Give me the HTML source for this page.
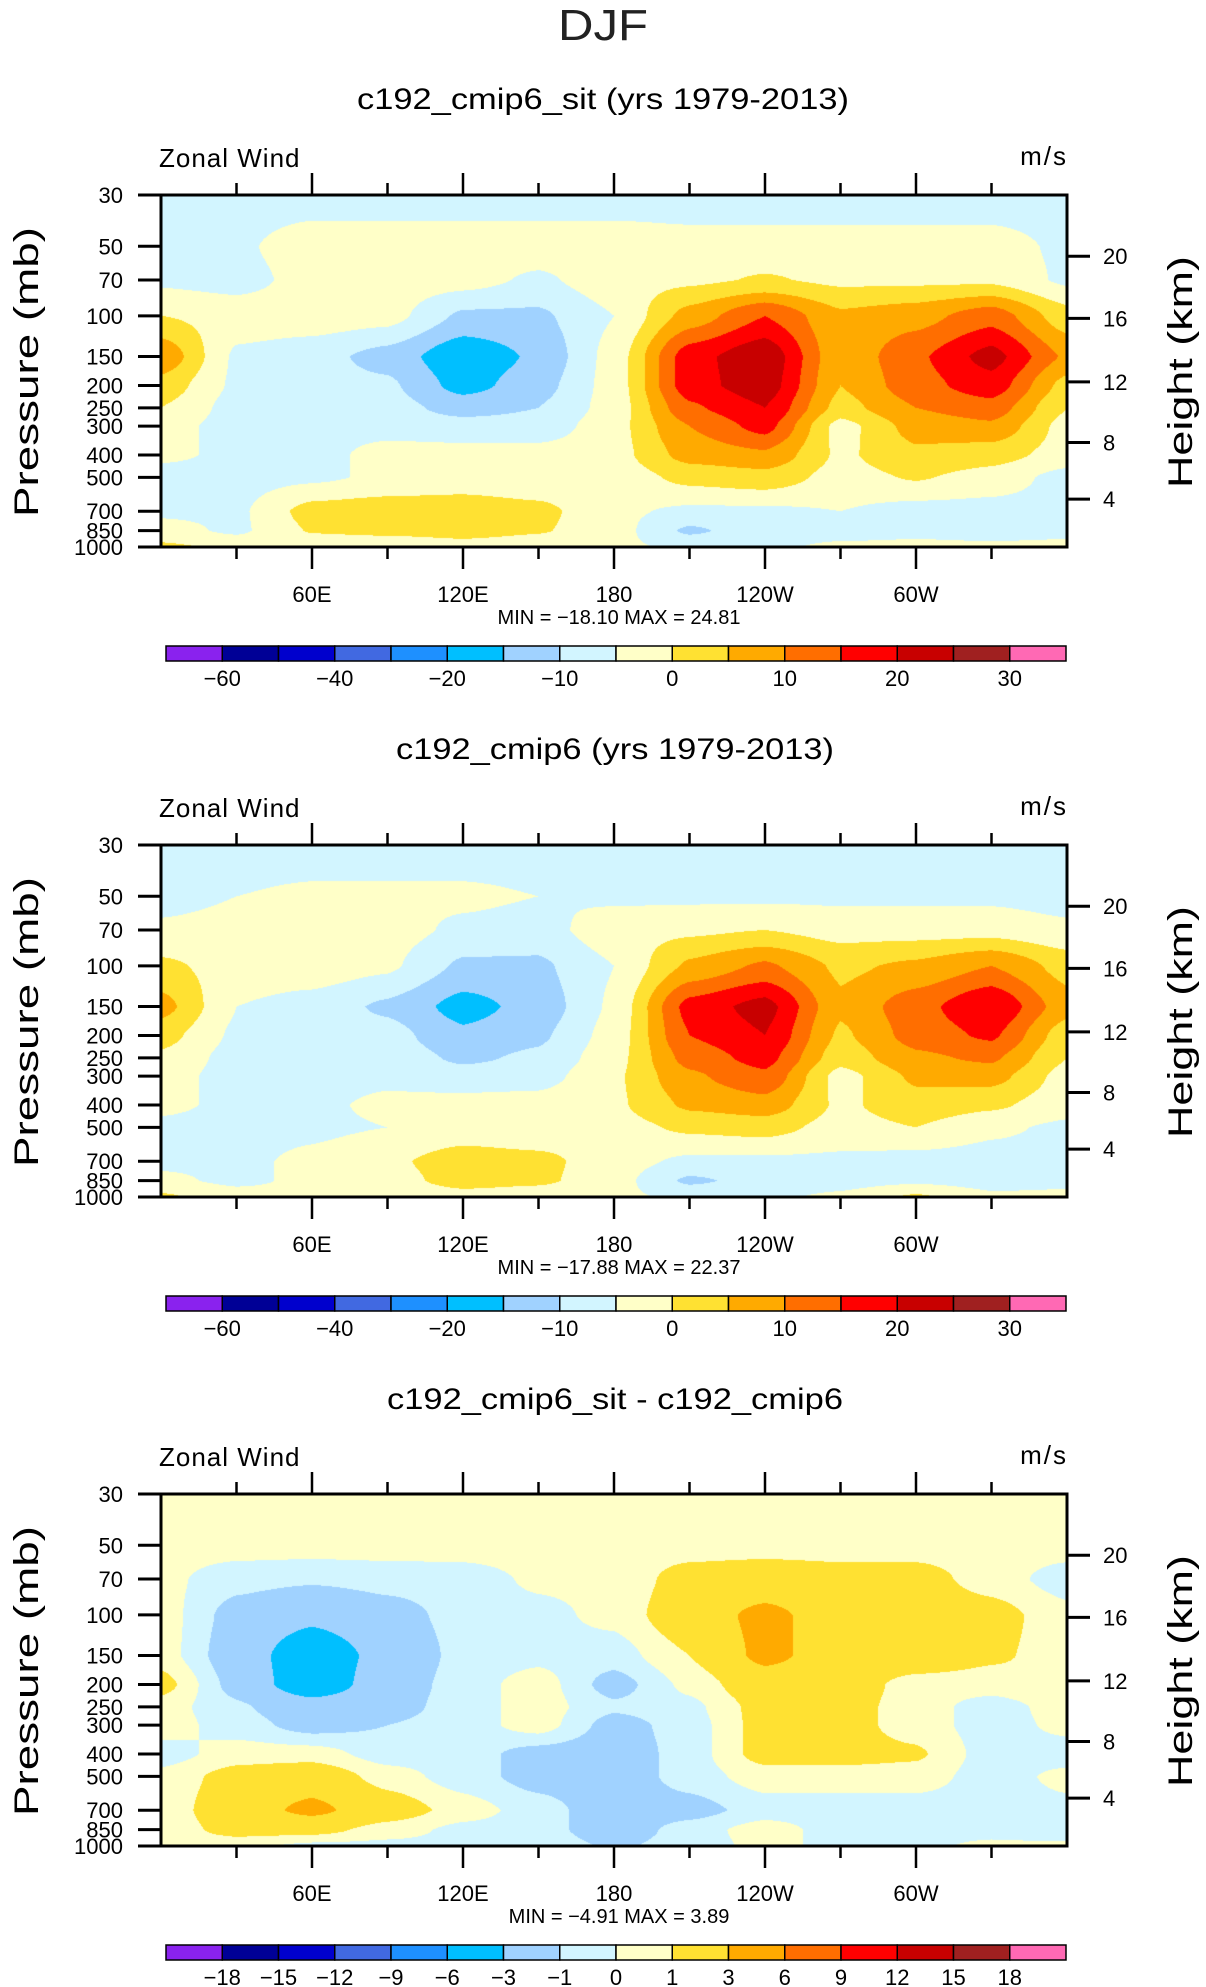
<!DOCTYPE html>
<html><head><meta charset="utf-8">
<style>
html,body{margin:0;padding:0;background:#fff;}
#root{position:relative;width:1206px;height:1987px;overflow:hidden;font-family:"Liberation Sans",sans-serif;}
canvas{position:absolute;}
svg{position:absolute;left:0;top:0;}
</style></head>
<body>
<div id="root">
<canvas id="c1"></canvas>
<canvas id="c2"></canvas>
<canvas id="c3"></canvas>
<svg id="ov" width="1206" height="1987"></svg>
</div>
<script>
// ---- data ----
const lons = [0,30,60,90,120,150,180,210,240,270,300,330,360];
const pLevels = [30,50,70,100,150,200,250,300,400,500,700,850,1000];
const pTickLabels = [30,50,70,100,150,200,250,300,400,500,700,850,1000];
const heightTickLabels = [20,16,12,8,4];
const heightTickPressures = [55.2,102.6,193,353,621];
const lonTickLabels = ["60E","120E","180","120W","60W"];
const lonTickValues = [60,120,180,240,300];
const levelsAbs = [-60,-50,-40,-30,-20,-15,-10,-5,0,5,10,15,20,25,30];
const levelsDiff = [-18,-15,-12,-9,-6,-3,-1,0,1,3,6,9,12,15,18];
const cbarLabelsAbs = ["-60","","-40","","-20","","-10","","0","","10","","20","","30"];
const cbarLabelsDiff = ["-18","-15","-12","-9","-6","-3","-1","0","1","3","6","9","12","15","18"];
const colors = ["#8a22ee","#000096","#0000cd","#4169e1","#1e90ff","#00bfff","#a0d2ff","#d2f5ff","#ffffc8","#ffe132","#ffaa00","#ff6e00","#ff0000","#c80000","#a02020","#ff69b4"];

const panel1Values = [
 [-8,-8,-8,-8,-8,-8,-8,-8,-8,-8,-8,-8,-8],
 [-7,-6,-2,-2,-2,-2,-2,-3,-3,-3,-3,-3,-6],
 [-6,-7,-3,-2,-3,-6,-2,-1,0.5,-1,-1,-1,-6],
 [0,-2,-2,-3,-11,-11,-5,7,15,6,8,13,2],
 [9,-6,-8,-12,-19,-14,-3,18,24,6,14,22,9],
 [3,-6,-8,-9,-17,-12,-3,18,23,5,13,18,3],
 [0,-7,-7,-8,-12,-10,-3,14,20,3,10,13,0],
 [-3,-7,-7,-7,-8,-8,-2,10,17,-2,7,9,-2],
 [-4,-6,-7,-3,-3,-3,-2,7,9,-1,4,2,-2],
 [-7,-7,-6,-4,-3,-4,-3,1.5,3,-2,0.5,-2,-7],
 [-6,-6,2,3,3,1.5,-4,-6,-6,-5,-7,-7,-7],
 [-3,-6,0.5,1.5,2,0.5,-3,-11,-7,-7,-6,-7,-6],
 [1,-1,-4,-4,-2,-3,-4,-6,-6,-4,-4,-4,-4]
];
const panel2Values = [
 [-8,-8,-8,-8,-8,-8,-8,-8,-8,-8,-8,-8,-8],
 [-7,-5,-4,-4,-4,-5,-6,-6,-6,-6,-6,-6,-7],
 [-4,-3,-2,-3,-6,-7,-2,-1,0,-2,-2,-2,-4],
 [1,-2,-2,-4,-11,-11,-5,6,11,4,6,10,3],
 [7,-5,-7,-11,-17,-13,-4,17,22,6,13,20,7],
 [2,-6,-8,-8,-14,-11,-3,15,20,4,12,16,2],
 [-1,-7,-7,-7,-11,-9,-2,12,17,2,9,11,0],
 [-3,-7,-7,-6,-8,-7,-1,9,14,-2,6,7,-2],
 [-4,-6,-6,-4,-3,-3,-1,6,8,-1,3,1,-3],
 [-6,-7,-6,-5,-3,-4,-2,1,2,-2,0,-4,-6],
 [-6,-6,-4,-1,2.5,1.5,-3,-6,-6,-6,-7,-7,-7],
 [-4,-6,-4,-2,2,1,-3,-11,-8,-7,-6,-7,-6],
 [1,-3,-4,-4,-2,-3,-4,-6,-6,-4,1,-4,-4]
];
const panel3Values = [
 [0.5,0.5,0.5,0.5,0.5,0.5,0.5,0.5,0.5,0.5,0.5,0.5,0.5],
 [0.5,0.5,0.5,0.5,0.5,0.5,0.5,0.5,0.5,0.5,0.5,0.5,0.5],
 [0.3,-0.6,-0.8,-0.6,-0.5,0.2,0.3,1.5,1.8,1.5,1.5,0.5,-0.5],
 [0.5,-1.5,-2.5,-1.5,-0.6,-0.3,0.3,2,3.5,2,2,1.5,0.3],
 [0.5,-1.8,-4.5,-2.2,-0.6,-0.3,-0.5,1,3.5,2,2,1.2,0.5],
 [1.5,-1.5,-4.5,-1.8,-0.5,0.5,-1.5,0.3,2,1.8,0.5,0.5,1],
 [0.5,-0.8,-2,-1.5,-0.5,0.5,-0.8,-0.3,1.5,1.5,0.5,-0.5,0.5],
 [0.5,-0.5,-1.5,-1,-0.5,0.5,-1.5,-0.5,1.5,1.5,0.5,-0.5,0.3],
 [-0.5,0.5,0.5,-0.5,-0.5,-1.5,-1.8,-0.5,1.5,1.5,1.2,-0.5,-0.5],
 [0.3,1.5,2,0.5,-0.5,-1.5,-1.8,-0.5,0.5,0.5,0.5,-0.5,0.3],
 [0.3,2,3.5,1.8,0.5,-0.5,-1.8,-1.5,-0.5,-0.5,-0.5,-0.5,-0.3],
 [0.3,1.5,1.5,0.5,-0.3,-0.5,-1.8,-0.5,0.5,-0.5,-0.5,-0.5,-1],
 [0.3,0.3,-0.3,-0.3,-0.3,-0.3,-1.2,-0.5,0.3,-0.3,-0.3,0.3,0.3]
];

// ---- layout ----
const FX0 = 161, FX1 = 1067, FW = FX1 - FX0, FH = 352;
const LP0 = Math.log(30), LP1 = Math.log(1000);
function xOf(lon){ return FX0 + lon/360*FW; }
function yOf(p, top){ return top + (Math.log(p)-LP0)/(LP1-LP0)*FH; }
function hexToRgb(h){ return [parseInt(h.substr(1,2),16),parseInt(h.substr(3,2),16),parseInt(h.substr(5,2),16)]; }
const rgb = colors.map(hexToRgb);

const svg = document.getElementById('ov');
const NS = "http://www.w3.org/2000/svg";
function mk(tag, attrs, parent){
  const e = document.createElementNS(NS, tag);
  for (const k in attrs) e.setAttribute(k, attrs[k]);
  (parent||svg).appendChild(e);
  return e;
}
function txt(s, attrs, name){
  const t = mk('text', attrs);
  t.textContent = s;
  
  
  return t;
}

function smooth(t){ return t*t*(3-2*t); }
function sample(vals, lon, lp){
  let fi = lon/30; let i = Math.min(11, Math.floor(fi)); let fx = fi - i;
  let j = 0;
  while (j < pLevels.length-2 && Math.log(pLevels[j+1]) < lp) j++;
  const a = Math.log(pLevels[j]), b = Math.log(pLevels[j+1]);
  let fy = (lp - a)/(b - a); fy = Math.max(0, Math.min(1, fy));
  fx = 0.5*fx + 0.5*smooth(fx); fy = 0.5*fy + 0.5*smooth(fy);
  const v00 = vals[j][i], v10 = vals[j][i+1], v01 = vals[j+1][i], v11 = vals[j+1][i+1];
  return (v00*(1-fx)+v10*fx)*(1-fy) + (v01*(1-fx)+v11*fx)*fy;
}

function drawField(id, top, vals, levels){
  const cv = document.getElementById(id);
  cv.width = FW; cv.height = FH;
  cv.style.left = FX0+'px'; cv.style.top = top+'px';
  const ctx = cv.getContext('2d');
  const img = ctx.createImageData(FW, FH);
  for (let y = 0; y < FH; y++){
    const lp = LP0 + (y+0.5)/FH*(LP1-LP0);
    for (let x = 0; x < FW; x++){
      const lon = (x+0.5)/FW*360;
      const v = sample(vals, lon, lp);
      let k = 0; while (k < levels.length && v >= levels[k]) k++;
      const c = rgb[k]; const o = (y*FW + x)*4;
      img.data[o]=c[0]; img.data[o+1]=c[1]; img.data[o+2]=c[2]; img.data[o+3]=255;
    }
  }
  ctx.putImageData(img, 0, 0);
}

function drawAxes(top, idx, minmax){
  const g = mk('g', {});
  
  
  const fr = mk('rect', {x:FX0, y:top, width:FW, height:FH, fill:'none', stroke:'#000', 'stroke-width':3}, g);
  
  
  pTickLabels.forEach(p => {
    const y = yOf(p, top);
    mk('line', {x1:FX0-23, x2:FX0, y1:y, y2:y, stroke:'#000', 'stroke-width':3}, g);
    const t = txt(String(p), {x:123, y:y+8, 'font-size':22, 'text-anchor':'end', fill:'#000'}, 'pressure-tick-label');
    g.appendChild(t);
  });
  heightTickLabels.forEach((h, i) => {
    const y = yOf(heightTickPressures[i], top);
    mk('line', {x1:FX1, x2:FX1+23, y1:y, y2:y, stroke:'#000', 'stroke-width':3}, g);
    const t = txt(String(h), {x:1103, y:y+8, 'font-size':22, fill:'#000'}, 'height-tick-label');
    g.appendChild(t);
  });
  for (let lon = 30; lon < 360; lon += 30){
    const x = xOf(lon); const major = lon % 60 === 0; const L = major ? 22 : 12;
    mk('line', {x1:x, x2:x, y1:top-L, y2:top, stroke:'#000', 'stroke-width':2.5}, g);
    mk('line', {x1:x, x2:x, y1:top+FH, y2:top+FH+L, stroke:'#000', 'stroke-width':2.5}, g);
  }
  lonTickValues.forEach((lon, i) => {
    const t = txt(lonTickLabels[i], {x:xOf(lon), y:top+FH+55, 'font-size':22, 'text-anchor':'middle', fill:'#000'}, 'longitude-tick-label');
    g.appendChild(t);
  });
  txt(minmax, {x:xOf(180)+5, y:top+FH+77, 'font-size':20, 'text-anchor':'middle', fill:'#000', 'xml:space':'preserve'}, 'min-max-annotation');
  txt('Zonal Wind', {x:159, y:top-28, 'font-size':26, fill:'#000', 'letter-spacing':'1'}, 'zonal-wind-label');
  txt('m/s', {x:1068, y:top-30, 'font-size':26, 'text-anchor':'end', fill:'#000', 'letter-spacing':'2'}, 'units-label');
  txt('Pressure  (mb)', {x:0, y:0, 'font-size':34, 'text-anchor':'middle', fill:'#000', textLength:290, lengthAdjust:'spacingAndGlyphs',
    transform:'translate(38,'+(top+177)+') rotate(-90)'}, 'pressure-axis-title');
  txt('Height  (km)', {x:0, y:0, 'font-size':34, 'text-anchor':'middle', fill:'#000', textLength:232, lengthAdjust:'spacingAndGlyphs',
    transform:'translate(1192,'+(top+177)+') rotate(-90)'}, 'height-axis-title');
}

function drawColorbar(y, labels, idx){
  const g = mk('g', {});
  
  
  const x0 = 166, x1 = 1066, n = colors.length, w = (x1-x0)/n;
  colors.forEach((c, i) => {
    const r = mk('rect', {x:x0+i*w, y:y, width:w, height:15, fill:c, stroke:'#000', 'stroke-width':1.5}, g);
    
    
  });
  labels.forEach((s, i) => {
    if (!s) return;
    const t = txt(s.replace('-', '\u2212'), {x:x0+(i+1)*w, y:y+40, 'font-size':22, 'text-anchor':'middle', fill:'#000'}, 'colorbar-label');
    g.appendChild(t);
  });
}

txt('DJF', {x:603, y:40, 'font-size':44, 'text-anchor':'middle', fill:'#222', textLength:90, lengthAdjust:'spacingAndGlyphs'}, 'figure-title');
txt('c192_cmip6_sit (yrs 1979-2013)', {x:603, y:109, 'font-size':30, 'text-anchor':'middle', fill:'#000', textLength:492, lengthAdjust:'spacingAndGlyphs'}, 'panel-1-title');
txt('c192_cmip6 (yrs 1979-2013)', {x:615, y:759, 'font-size':30, 'text-anchor':'middle', fill:'#000', textLength:438, lengthAdjust:'spacingAndGlyphs'}, 'panel-2-title');
txt('c192_cmip6_sit - c192_cmip6', {x:615, y:1409, 'font-size':30, 'text-anchor':'middle', fill:'#000', textLength:456, lengthAdjust:'spacingAndGlyphs'}, 'panel-3-title');

const tops = [195, 845, 1494];
drawField('c1', tops[0], panel1Values, levelsAbs);
drawField('c2', tops[1], panel2Values, levelsAbs);
drawField('c3', tops[2], panel3Values, levelsDiff);
drawAxes(tops[0], 1, 'MIN =  \u221218.10   MAX =   24.81');
drawAxes(tops[1], 2, 'MIN =  \u221217.88   MAX =   22.37');
drawAxes(tops[2], 3, 'MIN =    \u22124.91   MAX =    3.89');
drawColorbar(646, cbarLabelsAbs, 1);
drawColorbar(1296, cbarLabelsAbs, 2);
drawColorbar(1945, cbarLabelsDiff, 3);
</script>
</body></html>
